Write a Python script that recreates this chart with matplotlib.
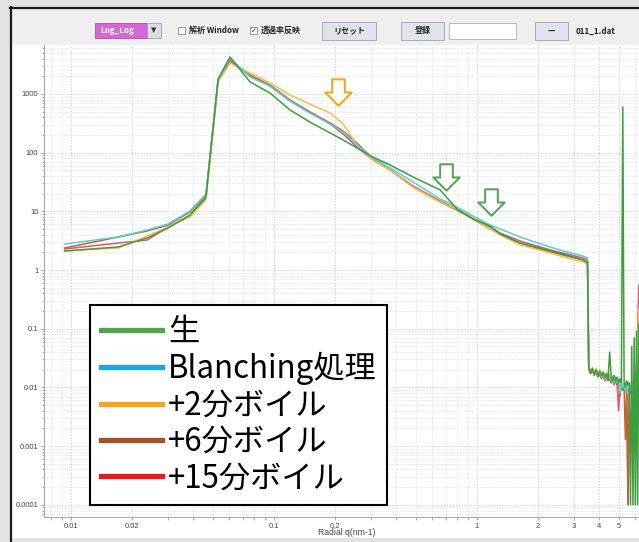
import matplotlib
matplotlib.use("Agg")
import matplotlib.pyplot as plt
from matplotlib.lines import Line2D
from matplotlib.patches import Rectangle
from matplotlib.path import Path
from matplotlib.ticker import FixedLocator, NullFormatter

plt.rcParams['font.family'] = ['Noto Sans CJK JP', 'DejaVu Sans']

W, H = 639, 542

# scattering vector q (nm-1): main profile and high-q tail
q_main = [0.0093, 0.0171, 0.0237, 0.0301, 0.0385, 0.0462, 0.0530, 0.0607,
          0.0762, 0.0955, 0.120, 0.150, 0.189, 0.219, 0.256, 0.307, 0.373,
          0.484, 0.658, 0.797, 0.955, 1.16, 1.30, 1.63, 2.21, 2.77, 3.33, 3.50]
q_tail = [3.55, 3.62, 3.70, 3.78, 3.86, 3.94, 4.02, 4.10, 4.18, 4.26,
          4.34, 4.42, 4.50, 4.58, 4.66, 4.74, 4.82, 4.90, 4.98, 5.06,
          5.14, 5.22, 5.30, 5.38, 5.46, 5.54, 5.62, 5.70, 5.78, 5.86,
          5.94, 6.02, 6.10, 6.18, 6.26]

raw_main = [2.11, 2.47, 3.51, 5.2, 8.65, 17.5, 1795, 4255, 1595, 1036, 532,
            332, 216, 164, 120, 84, 61.5, 38.4, 23.1, 10.9, 7.39, 5.62, 4.10,
            2.88, 2.19, 1.80, 1.48, 1.32]
raw_tail = [0.022, 0.018, 0.021, 0.017, 0.020, 0.016, 0.019, 0.016, 0.018, 0.015,
            0.017, 0.014, 0.040, 0.015, 0.013, 0.016, 0.013, 0.015, 0.012, 0.014,
            0.012, 600, 0.013, 0.010, 0.013, 0.011, 0.012, 0.0001, 0.05, 0.0001,
            0.07, 0.0001, 0.09, 0.0001, 0.12]

blanch_main = [2.77, 3.65, 4.8, 6.08, 10.1, 19.7, 1726, 4090, 1941, 1363, 757,
               473, 307, 224, 135, 81, 54.7, 31.6, 16.2, 11.8, 8.32, 5.84, 4.99,
               3.65, 2.56, 2.03, 1.73, 1.60]
blanch_tail = [0.021, 0.018, 0.020, 0.017, 0.019, 0.016, 0.018, 0.015, 0.017, 0.014,
               0.016, 0.014, 0.015, 0.013, 0.015, 0.012, 0.014, 0.012, 0.013, 0.008,
               0.012, 0.010, 0.012, 0.009, 0.011, 0.008, 0.010, 0.009, 0.012, 0.010,
               0.014, 0.012, 0.02, 0.02, 0.03]

boil2_main = [2.11, 2.37, 3.79, 5.4, 8.0, 15.6, 1595, 3360, 2270, 1534, 958,
              673, 473, 307, 135, 74.8, 50.6, 25.9, 14.4, 10.9, 7.69, 4.99, 3.95,
              2.67, 2.03, 1.60, 1.37, 1.26]
boil2_tail = [0.023, 0.019, 0.022, 0.018, 0.021, 0.017, 0.020, 0.016, 0.019, 0.015,
              0.018, 0.015, 0.017, 0.014, 0.016, 0.013, 0.015, 0.013, 0.014, 0.011,
              0.013, 0.010, 0.012, 0.009, 0.011, 0.008, 0.010, 0.009, 0.011, 0.009,
              0.010, 0.009, 0.012, 0.06, 0.22]

boil6_main = [2.37, 3.65, 4.62, 5.84, 9.73, 19.0, 1660, 3490, 2100, 1420, 787,
              492, 319, 233, 146, 77.8, 50.6, 25.9, 14.4, 10.5, 7.39, 4.99, 4.10,
              2.88, 2.11, 1.73, 1.48, 1.37]
boil6_tail = [0.020, 0.017, 0.019, 0.016, 0.018, 0.015, 0.017, 0.014, 0.016, 0.013,
              0.015, 0.013, 0.014, 0.012, 0.014, 0.011, 0.013, 0.011, 0.012, 0.007,
              0.011, 0.009, 0.010, 0.0013, 0.010, 0.0001, 0.009, 0.008, 0.010, 0.008,
              0.010, 0.009, 0.011, 0.02, 0.05]

boil15_main = [2.28, 2.88, 3.24, 5.4, 8.32, 16.8, 1660, 3780, 2020, 1363, 757,
               492, 307, 207, 125, 74.8, 50.6, 27.0, 15.0, 10.9, 7.69, 5.4, 4.27,
               3.12, 2.28, 1.87, 1.60, 1.48]
boil15_tail = [0.022, 0.018, 0.021, 0.017, 0.020, 0.016, 0.019, 0.015, 0.018, 0.014,
               0.017, 0.013, 0.016, 0.012, 0.015, 0.012, 0.014, 0.011, 0.004, 0.012,
               0.010, 0.011, 0.009, 0.010, 0.008, 0.0001, 0.007, 0.010, 0.009, 0.011,
               0.012, 0.015, 0.02, 0.1, 0.55]

labels = ['生', 'Blanching処理', '+2分ボイル', '+6分ボイル', '+15分ボイル']
line_colors = ['#3e9c3e', '#4fd2d6', '#f4bd52', '#c0642e', '#e2507c']
legend_colors = ['#4ea54e', '#1aa7e4', '#f7a520', '#a3522a', '#f01818']

# marked features (arrow centres in q, I)
arrow_q = [0.2065, 0.703, 1.17]
arrow_I = [1077, 38.4, 14.4]
arrow_colors = ['#f5a623', '#5aa55a', '#5aa55a']

series = [
    (raw_main, raw_tail),
    (blanch_main, blanch_tail),
    (boil2_main, boil2_tail),
    (boil6_main, boil6_tail),
    (boil15_main, boil15_tail),
]


def fx(px):
    return px / W


def fy(py):
    return 1 - py / H


def box(x0, y0, x1, y1, z=-5, **kw):
    fig.patches.append(Rectangle((fx(x0), fy(y1)), fx(x1) - fx(x0), fy(y0) - fy(y1),
                                 transform=fig.transFigure, zorder=z, **kw))


fig = plt.figure(figsize=(W / 100, H / 100), dpi=100, facecolor='#e3e3e3')

# window panel and toolbar
box(11, 8, 639, 538, z=-10, facecolor='white', edgecolor='none')
box(12, 9, 639, 45, z=-9, facecolor='#efefef', edgecolor='none')
fig.add_artist(Line2D([fx(11), fx(11)], [fy(7), fy(542)], color='#1a1a1a', lw=1.6,
                      transform=fig.transFigure, zorder=-5))
fig.add_artist(Line2D([fx(10), fx(639)], [fy(8), fy(8)], color='#1a1a1a', lw=1.6,
                      transform=fig.transFigure, zorder=-5))

ui = dict(fontsize=5.8, fontweight='bold', va='center', transform=fig.transFigure)
box(95, 23, 147, 38, facecolor='#d966d6', edgecolor='#b04cb0', lw=0.6)
fig.text(fx(100), fy(30.5), 'Log_Log', color='white', ha='left', **ui)
box(147, 23, 161, 38, facecolor='#d9dee4', edgecolor='#9aa3ad', lw=0.6)
fig.text(fx(154), fy(30.5), '▼', color='#333333', ha='center', fontsize=5,
         va='center', transform=fig.transFigure, family='DejaVu Sans')
box(178, 27, 185, 34, facecolor='white', edgecolor='#888888', lw=0.6)
fig.text(fx(189), fy(30.5), '解析 Window', color='#222222', ha='left', **ui)
box(250, 27, 257, 34, facecolor='white', edgecolor='#888888', lw=0.6)
fig.text(fx(253.5), fy(30.5), '✓', color='#222222', ha='center', fontsize=5,
         va='center', transform=fig.transFigure, family='DejaVu Sans')
fig.text(fx(261), fy(30.5), '透過率反映', color='#222222', ha='left', **ui)
for x0, x1, t in [(322, 376, 'リセット'), (401, 444, '登録'), (535, 568, '—')]:
    box(x0, 22, x1, 40, facecolor='#dfe4ea', edgecolor='#9aa4ae', lw=0.6)
    fig.text(fx((x0 + x1) / 2), fy(31), t, color='#222222', ha='center', **ui)
box(449, 23, 516, 39, facecolor='white', edgecolor='#aab0b6', lw=0.6)
fig.text(fx(576), fy(31), '011_1.dat', color='#222222', ha='left', **ui)

# plot area runs past the right edge of the window
ax = fig.add_axes([fx(44), fy(517), fx(650) - fx(44), fy(45) - fy(517)])
ax.set_facecolor('none')
ax.set_xscale('log')
ax.set_yscale('log')
ax.set_xlim(0.00736, 7.11)
ax.set_ylim(6.2e-5, 6810)

for (m, t), c in reversed(list(zip(series, line_colors))):
    ax.plot(q_main + q_tail, m + t, color=c, lw=1.1)

xt = [0.01, 0.02, 0.1, 0.2, 1, 2, 3, 4, 5]
ax.xaxis.set_major_locator(FixedLocator(xt))
ax.set_xticklabels(['0.01', '0.02', '0.1', '0.2', '1', '2', '3', '4', '5'])
ax.xaxis.set_minor_locator(FixedLocator([0.008, 0.009, 0.03, 0.04, 0.05, 0.06, 0.07,
                                         0.08, 0.09, 0.3, 0.4, 0.5, 0.6, 0.7, 0.8, 0.9, 6, 7]))
ax.xaxis.set_minor_formatter(NullFormatter())
yt = [1e-4, 1e-3, 1e-2, 0.1, 1, 10, 100, 1000]
ax.yaxis.set_major_locator(FixedLocator(yt))
ax.set_yticklabels(['0.0001', '0.001', '0.01', '0.1', '1', '10', '100', '1000'])
ax.yaxis.set_minor_formatter(NullFormatter())

tick_font = dict(family='Liberation Sans', size=5.5)
for lab in ax.get_xticklabels() + ax.get_yticklabels():
    lab.set_fontfamily('Liberation Sans')
    lab.set_fontsize(5.5)
ax.tick_params(which='both', colors='#9a9a9a', labelcolor='#444444', length=2.5, width=0.6, pad=1.5)
ax.tick_params(which='minor', length=1.8)
ax.grid(which='major', color='#d2d2d2', linestyle=(0, (1.5, 1.5)), lw=0.7)
ax.grid(which='minor', color='#e2e2e2', linestyle=(0, (1.5, 1.5)), lw=0.6)
for s in ['top', 'right']:
    ax.spines[s].set_visible(False)
for s in ['left', 'bottom']:
    ax.spines[s].set_color('#a8a8a8')
    ax.spines[s].set_linewidth(0.8)
ax.set_xlabel('Radial q(nm-1)', fontdict=tick_font, fontsize=6.2, color='#444444', labelpad=-1)

# hollow down arrows marking features
arrow_path = Path([(-0.24, 0.5), (0.24, 0.5), (0.24, 0.0), (0.5, 0.0), (0.0, -0.5),
                   (-0.5, 0.0), (-0.24, 0.0), (-0.24, 0.5)],
                  [Path.MOVETO] + [Path.LINETO] * 6 + [Path.CLOSEPOLY])
for q, i, c in zip(arrow_q, arrow_I, arrow_colors):
    ax.plot([q], [i], marker=arrow_path, ms=19, mfc='white', mec=c, mew=1.5, zorder=5)

handles = [Line2D([], [], color=c, lw=3.8) for c in legend_colors]
leg = ax.legend(handles, labels, loc='upper left', bbox_to_anchor=(fx(90), fy(305)),
                bbox_transform=fig.transFigure, prop={'family': 'Noto Sans CJK JP', 'size': 22.5},
                frameon=True, fancybox=False, framealpha=1, edgecolor='black',
                borderpad=0.34, borderaxespad=0, handlelength=1.95, handletextpad=0.2,
                labelspacing=0.14)
leg.get_frame().set_linewidth(1.5)

fig.savefig('out.png', dpi=100, facecolor=fig.get_facecolor())
